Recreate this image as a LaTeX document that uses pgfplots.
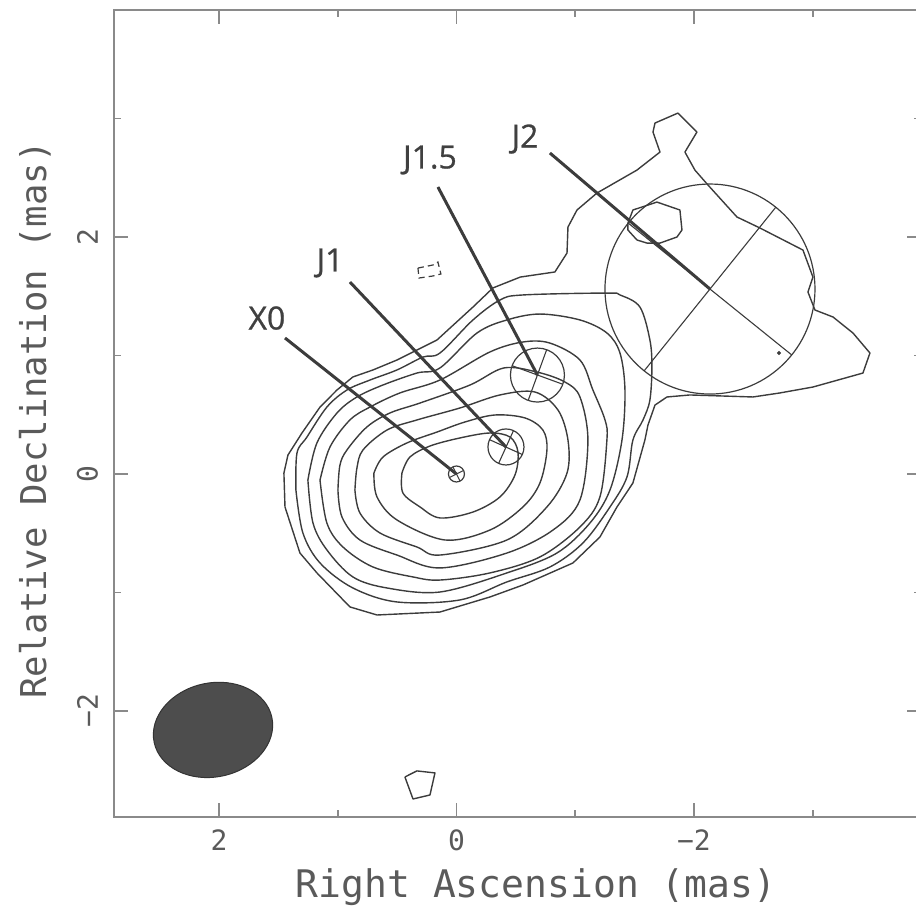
\documentclass[border=0pt]{standalone}
\usepackage{fontspec}
\usepackage{pgfplots}
\pgfplotsset{compat=1.18}
\newfontfamily\monof{DejaVu Sans Mono}
\newfontfamily\labf[FakeBold=0.8]{Open Sans}
\definecolor{cline}{HTML}{3C3C3C}
\definecolor{axgray}{HTML}{8A8A8A}
\definecolor{txtgray}{HTML}{5A5A5A}
\definecolor{labgray}{HTML}{404040}
\definecolor{beamfill}{HTML}{4D4D4D}
\begin{document}
\begin{tikzpicture}
\begin{axis}[
  scale only axis, width=403.5pt, height=403.5pt,
  x dir=reverse,
  xmin=-3.912, xmax=2.884, ymin=-2.895, ymax=3.916,
  axis line style={axgray, line width=1pt},
  xtick={-2,0,2}, xticklabels={−2,0,2},
  ytick={-2,0,2}, yticklabels={−2,0,2},
  minor xtick={-3,-1,1}, minor ytick={-1,1,3},
  tick align=inside, major tick length=7pt, minor tick length=3.5pt,
  tick style={axgray, line width=0.8pt},
  ticklabel style={font=\monof\fontsize{14}{14}\selectfont, text=txtgray},
  xticklabel style={yshift=-3pt},
  yticklabel style={xshift=-4.5pt, rotate=90, anchor=south},
  xlabel={Right Ascension (mas)}, ylabel={Relative Declination (mas)},
  xlabel style={font=\monof\fontsize{19}{19}\selectfont, text=txtgray, at={(axis description cs:0.523,-0.087)}, anchor=center},
  ylabel style={font=\monof\fontsize{17.8}{17.8}\selectfont, text=txtgray, at={(axis description cs:-0.098,0.492)}, anchor=center},
  cont/.style={cline, line width=0.7pt, line join=round},
  scont/.style={cline, line width=0.7pt, line join=round, smooth, tension=0.55},
]
% contours (outer to inner)
\addplot[cont] coordinates {
(1.453,0.008) (1.419,0.160) (1.301,0.346) (1.149,0.565) (1.006,0.709) (0.872,0.819)
(0.703,0.878) (0.501,0.962) (0.333,1.046) (0.164,1.131) (-0.139,1.409) (-0.307,1.570)
(-0.537,1.662) (-0.829,1.705) (-0.931,1.865) (-0.939,2.084) (-1.015,2.228) (-1.183,2.371)
(-1.520,2.565) (-1.714,2.717) (-1.655,2.886) (-1.672,2.962) (-1.865,3.046) (-2.025,2.886)
(-1.924,2.717) (-2.008,2.565) (-2.118,2.439) (-2.362,2.169) (-2.556,2.076) (-2.918,1.890)
(-3.002,1.662) (-2.960,1.536) (-3.019,1.384) (-3.171,1.325) (-3.339,1.190) (-3.482,1.021)
(-3.423,0.852) (-3.002,0.734) (-2.724,0.684) (-2.497,0.650) (-1.966,0.667) (-1.773,0.650)
(-1.672,0.582) (-1.613,0.414) (-1.587,0.287) (-1.486,-0.076) (-1.352,-0.278) (-1.208,-0.532)
(-0.981,-0.751) (-0.560,-0.937) (-0.282,-1.038) (0.139,-1.165) (0.669,-1.190) (0.897,-1.122)
(1.175,-0.835) (1.318,-0.667) (1.444,-0.278) (1.453,0.008)};
\addplot[scont] coordinates {
(1.352,-0.135) (1.343,0.177) (1.259,0.312) (1.091,0.565) (0.922,0.709) (0.728,0.793)
(0.501,0.878) (0.282,0.987) (0.139,1.021) (-0.139,1.300) (-0.366,1.468) (-0.560,1.511)
(-1.267,1.527) (-1.377,1.511) (-1.545,1.409) (-1.629,1.131) (-1.646,0.903) (-1.629,0.624)
(-1.571,0.456) (-1.486,0.287) (-1.436,-0.025) (-1.293,-0.278) (-1.065,-0.582) (-0.787,-0.785)
(-0.425,-0.911) (-0.029,-1.063) (0.501,-1.080) (0.872,-0.962) (1.149,-0.751) (1.293,-0.498)
(1.352,-0.135)};
\addplot[scont] coordinates {
(1.251,-0.051) (1.175,0.262) (1.006,0.515) (0.838,0.650) (0.619,0.751) (0.333,0.852)
(0.139,0.895) (-0.173,1.190) (-0.425,1.300) (-0.703,1.350) (-1.040,1.300) (-1.267,1.190)
(-1.377,1.021) (-1.419,0.709) (-1.394,0.287) (-1.293,-0.135) (-1.124,-0.414) (-0.846,-0.667)
(-0.425,-0.835) (0.139,-0.996) (0.585,-0.962) (0.872,-0.869) (1.091,-0.641) (1.208,-0.414)
(1.251,-0.051)};
\addplot[scont] coordinates {
(1.149,-0.051) (1.065,0.228) (0.897,0.456) (0.728,0.565) (0.476,0.684) (0.139,0.793)
(-0.282,1.030) (-0.560,1.114) (-0.787,1.105) (-1.040,0.962) (-1.149,0.709) (-1.251,0.456)
(-1.267,0.287) (-1.208,-0.194) (-1.040,-0.447) (-0.703,-0.700) (-0.282,-0.835) (0.139,-0.895)
(0.366,-0.869) (0.703,-0.785) (0.956,-0.616) (1.091,-0.414) (1.149,-0.051)};
\addplot[scont] coordinates {
(0.998,-0.135) (0.981,0.076) (0.922,0.203) (0.754,0.397) (0.560,0.515) (0.307,0.599)
(-0.114,0.751) (-0.400,0.895) (-0.680,0.860) (-0.914,0.776) (-1.040,0.650) (-1.107,0.287)
(-1.040,-0.219) (-0.813,-0.473) (-0.425,-0.667) (0.139,-0.793) (0.501,-0.684) (0.813,-0.557)
(0.964,-0.363) (0.998,-0.135)};
\addplot[scont] coordinates {
(0.855,-0.135) (0.838,0.051) (0.787,0.203) (0.585,0.371) (0.333,0.456) (-0.029,0.557)
(-0.366,0.667) (-0.661,0.692) (-0.855,0.540) (-0.939,0.287) (-0.931,0.008) (-0.762,-0.278)
(-0.425,-0.557) (0.139,-0.684) (0.333,-0.616) (0.644,-0.498) (0.813,-0.329) (0.855,-0.135)};
\addplot[scont] coordinates {
(0.695,0.008) (0.619,0.143) (0.417,0.262) (0.164,0.354) (-0.072,0.439) (-0.324,0.498)
(-0.577,0.473) (-0.728,0.371) (-0.762,0.203) (-0.703,-0.076) (-0.560,-0.278) (-0.282,-0.473)
(0.097,-0.557) (0.501,-0.388) (0.669,-0.194) (0.695,0.008)};
\addplot[scont] coordinates {
(0.459,0.008) (0.392,0.143) (0.223,0.236) (-0.029,0.304) (-0.282,0.346) (-0.451,0.312)
(-0.518,0.186) (-0.493,-0.008) (-0.366,-0.194) (-0.139,-0.321) (0.139,-0.371) (0.307,-0.278)
(0.451,-0.160) (0.459,0.008)};
% small contour near J2
\addplot[cont] coordinates {
(-1.444,2.118) (-1.486,2.228) (-1.688,2.295) (-1.882,2.228) (-1.899,2.059) (-1.857,2.000)
(-1.714,1.949) (-1.604,1.949) (-1.520,1.975) (-1.444,2.059) (-1.444,2.118)};
% isolated pentagon
\addplot[cont] coordinates {
(0.434,-2.557) (0.333,-2.506) (0.181,-2.523) (0.223,-2.709) (0.366,-2.743) (0.434,-2.557)};
% small negative (dashed) contour
\addplot[cline, line width=0.6pt, dash pattern=on 3pt off 2pt] coordinates {
(0.324,1.738) (0.198,1.764) (0.156,1.789) (0.131,1.688) (0.198,1.671) (0.316,1.654) (0.324,1.738)};
% model components
\addplot[only marks, mark=o, mark size=52.5pt, mark options={draw=cline, line width=0.6pt}] coordinates {(-2.135,1.561)};
\addplot[only marks, mark=o, mark size=13.5pt, mark options={draw=cline, line width=0.6pt}] coordinates {(-0.682,0.835)};
\addplot[only marks, mark=o, mark size=9pt, mark options={draw=cline, line width=0.6pt}] coordinates {(-0.417,0.228)};
\addplot[only marks, mark=o, mark size=4pt, mark options={draw=cline, line width=0.6pt}] coordinates {(0,0)};
% component axes
\addplot[cline, line width=0.55pt] coordinates {(-2.823,1.005) (-1.447,2.117)};
\addplot[cline, line width=0.55pt] coordinates {(-2.689,2.251) (-1.581,0.871)};
\addplot[cline, line width=0.55pt] coordinates {(-0.760,1.050) (-0.604,0.621)};
\addplot[cline, line width=0.55pt] coordinates {(-0.896,0.757) (-0.468,0.914)};
\addplot[cline, line width=0.55pt] coordinates {(-0.480,0.366) (-0.355,0.089)};
\addplot[cline, line width=0.55pt] coordinates {(-0.278,0.290) (-0.554,0.165)};
\addplot[cline, line width=0.5pt] coordinates {(0.03,0.06) (-0.03,-0.06)};
\addplot[cline, line width=0.5pt] coordinates {(0.06,-0.03) (-0.06,0.03)};
\addplot[only marks, mark=*, mark size=0.8pt, cline] coordinates {(-2.716,1.021)};
% leader lines
\addplot[cline, line width=1.5pt] coordinates {(1.444,1.148) (0,0)};
\addplot[cline, line width=1.5pt] coordinates {(0.897,1.620) (-0.417,0.228)};
\addplot[cline, line width=1.5pt] coordinates {(0.156,2.422) (-0.682,0.835)};
\addplot[cline, line width=1.5pt] coordinates {(-0.787,2.709) (-2.135,1.561)};
% beam
\addplot[only marks, mark=*, mark size=23.5pt, mark options={fill=beamfill, draw=black!80, line width=0.5pt, rotate=12, xscale=1.28}] coordinates {(2.05,-2.16)};
% labels
\node[font=\labf\fontsize{16}{16}\selectfont, text=labgray] at (axis cs:1.596,1.316) {X0};
\node[font=\labf\fontsize{16}{16}\selectfont, text=labgray] at (axis cs:1.065,1.781) {J1};
\node[font=\labf\fontsize{16}{16}\selectfont, text=labgray] at (axis cs:0.223,2.650) {J1.5};
\node[font=\labf\fontsize{16}{16}\selectfont, text=labgray] at (axis cs:-0.577,2.827) {J2};
\end{axis}
\pgfresetboundingbox
\useasboundingbox (-57pt,-45pt) rectangle (401pt,408.5pt);
\end{tikzpicture}
\end{document}
